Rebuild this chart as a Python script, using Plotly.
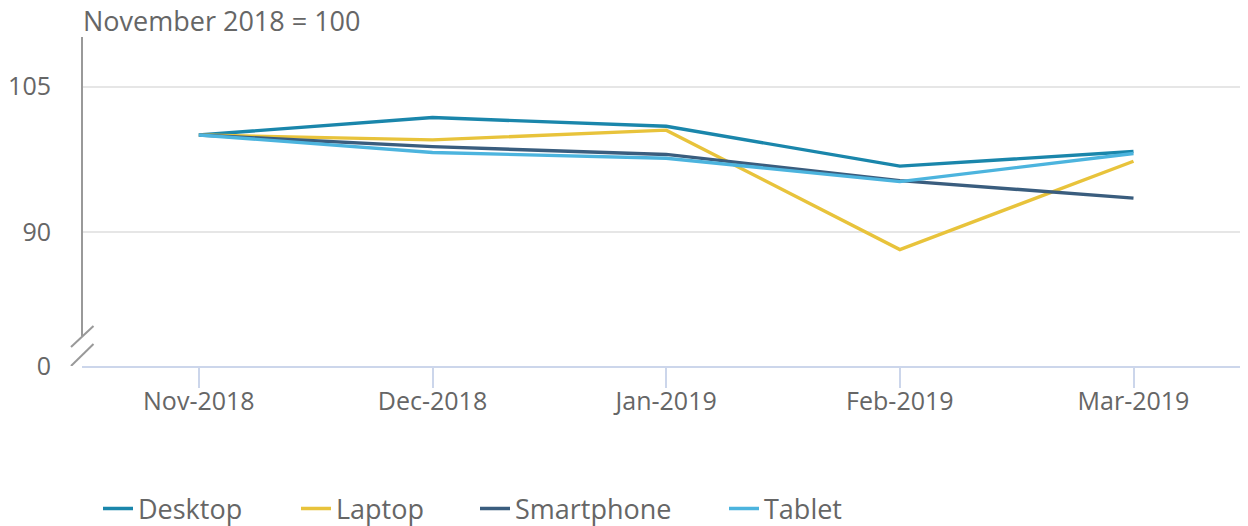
import plotly.graph_objects as go

months = ["Nov-2018", "Dec-2018", "Jan-2019", "Feb-2019", "Mar-2019"]
desktop = [100.0, 101.8, 100.9, 96.8, 98.3]
laptop = [100.0, 99.5, 100.5, 88.2, 97.3]
smartphone = [100.0, 98.8, 98.0, 95.3, 93.5]
tablet = [100.0, 98.2, 97.6, 95.2, 98.1]

series_names = ["Desktop", "Laptop", "Smartphone", "Tablet"]
series_values = [desktop, laptop, smartphone, tablet]
colors = ["#1a86ab", "#e8c33b", "#3a5d7e", "#4cb4de"]

# broken axis: the bottom of the visible range is labelled "0"
axis_bottom = 76.2
axis_top = 110.1
tick_vals = [axis_bottom, 90, 105]
tick_text = ["0", "90", "105"]

FONT = "Open Sans"
GREY = "#666666"

W, H = 1240, 530
ML, MT = 74, 29
PH = 329
MB = H - MT - PH
PW = W - ML

legend_keys = ["legend", "legend2", "legend3", "legend4"]
legend_px = [98, 296, 475, 724]  # item origins in page pixels

fig = go.Figure()
for name, vals, col, lk in zip(series_names, series_values, colors, legend_keys):
    fig.add_trace(go.Scatter(
        x=months, y=vals, name=name, mode="lines",
        line=dict(color=col, width=3.4), legend=lk,
    ))

legend_layout = {}
for lk, px in zip(legend_keys, legend_px):
    legend_layout[lk] = dict(
        orientation="h", x=(px - 8 - ML) / PW, xanchor="left",
        y=(PH - (509 - 8 - MT)) / PH, yanchor="middle",
        font=dict(family=FONT, size=27, color=GREY),
        itemwidth=30, bgcolor="rgba(0,0,0,0)",
    )

fig.update_layout(
    width=W, height=H,
    margin=dict(l=ML, r=0, t=MT, b=MB),
    paper_bgcolor="white", plot_bgcolor="white",
    font=dict(family=FONT, size=25, color=GREY),
    showlegend=True,
    xaxis=dict(
        type="category", range=[-0.5, 4.49],
        showgrid=False, showline=True, linecolor="#ccd6eb", linewidth=2,
        ticks="outside", ticklen=20, tickwidth=2, tickcolor="#ccd6eb",
        tickfont=dict(family=FONT, size=25, color=GREY),
        ticklabelstandoff=-8,
        zeroline=False,
    ),
    yaxis=dict(
        range=[axis_bottom, axis_top],
        tickvals=tick_vals, ticktext=tick_text,
        showgrid=True, gridcolor="#e6e6e6", gridwidth=2,
        showline=False, zeroline=False, ticks="",
        ticklabelstandoff=30,
        tickfont=dict(family=FONT, size=25, color=GREY),
    ),
    annotations=[dict(
        text="November 2018 = 100", xref="paper", yref="paper",
        x=0, y=1, xanchor="left", yanchor="bottom", xshift=-1, yshift=-4,
        showarrow=False, font=dict(family=FONT, size=27, color=GREY),
    )],
    **legend_layout,
)

axis_col = "#999999"
# y-axis line down to the break
fig.add_shape(type="line", xref="paper", yref="y", xsizemode="pixel", ysizemode="pixel",
              xanchor=0, yanchor=axis_bottom, x0=0, x1=0, y0=30, y1=PH,
              line=dict(color=axis_col, width=2))
# break marks
for y0, y1 in [(19, 40), (0, 22)]:
    fig.add_shape(type="line", xref="paper", yref="y", xsizemode="pixel", ysizemode="pixel",
                  xanchor=0, yanchor=axis_bottom, x0=-11, x1=11.5, y0=y0, y1=y1,
                  line=dict(color=axis_col, width=2))

fig.write_html("out.html")
